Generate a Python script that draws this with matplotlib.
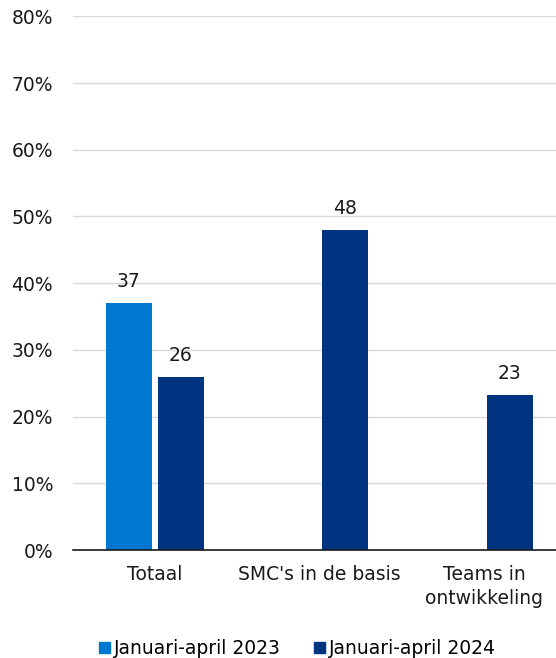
import matplotlib

matplotlib.use("Agg")
import matplotlib.pyplot as plt
import matplotlib.ticker as mticker
import numpy as np

categories = ["Totaal", "SMC's in de basis", "Teams in\nontwikkeling"]
series_names = ["Januari-april 2023", "Januari-april 2024"]
values_2023 = [37, None, None]
values_2024 = [26, 48, 23.2]
y_ticks = [0, 10, 20, 30, 40, 50, 60, 70, 80]

color_2023 = "#0078d2"
color_2024 = "#003380"
fs = 13.5

plt.rcParams["font.family"] = ["DejaVu Sans"]
plt.rcParams["font.size"] = fs

fig = plt.figure(figsize=(5.56, 6.58), dpi=100)
ax = fig.add_axes([72.6 / 556, 108 / 658, 1 - 72.6 / 556, 533.7 / 658])

x = np.arange(len(categories))
width = 0.28
offset = 0.158

for vals, color, shift in [(values_2023, color_2023, -offset), (values_2024, color_2024, offset)]:
    xs = [xi + shift for xi, v in zip(x, vals) if v is not None]
    ys = [v for v in vals if v is not None]
    bars = ax.bar(xs, ys, width=width, color=color, zorder=3)
    ax.bar_label(bars, labels=[f"{v:.0f}" for v in ys], padding=8.5, fontsize=fs, color="#1a1a1a")

ax.set_xlim(-0.5, 2.5 - 10.2 / 164.5)
ax.set_ylim(0, 80)
ax.set_yticks(y_ticks)
ax.yaxis.set_major_formatter(mticker.FuncFormatter(lambda v, _: f"{v:.0f}%"))
ax.set_xticks(x)
ax.set_xticklabels(categories, linespacing=1.3)
ax.tick_params(axis="y", length=0, pad=14, labelsize=fs, colors="#1a1a1a")
ax.tick_params(axis="x", length=0, pad=11, labelsize=fs, colors="#1a1a1a")
# nudge the last category label a bit right, as in the source
ax.get_xticklabels()[-1].set_x(2.02)

ax.grid(axis="y", color="#d9d9d9", linewidth=1.0, zorder=0)
for side in ["top", "right", "left"]:
    ax.spines[side].set_visible(False)
ax.spines["bottom"].set_color("#1a1a1a")
ax.spines["bottom"].set_linewidth(1.2)
ax.spines["bottom"].set_zorder(4)

handles = [
    plt.Rectangle((0, 0), 1, 1, color=color_2023),
    plt.Rectangle((0, 0), 1, 1, color=color_2024),
]
fig.legend(
    handles,
    series_names,
    loc="lower left",
    bbox_to_anchor=(82 / 556, -17 / 658),
    ncol=2,
    frameon=False,
    handlelength=0.57,
    handleheight=0.57,
    handletextpad=0.25,
    columnspacing=1.75,
    fontsize=fs,
)

fig.savefig("out.png", dpi=100, facecolor="white")
